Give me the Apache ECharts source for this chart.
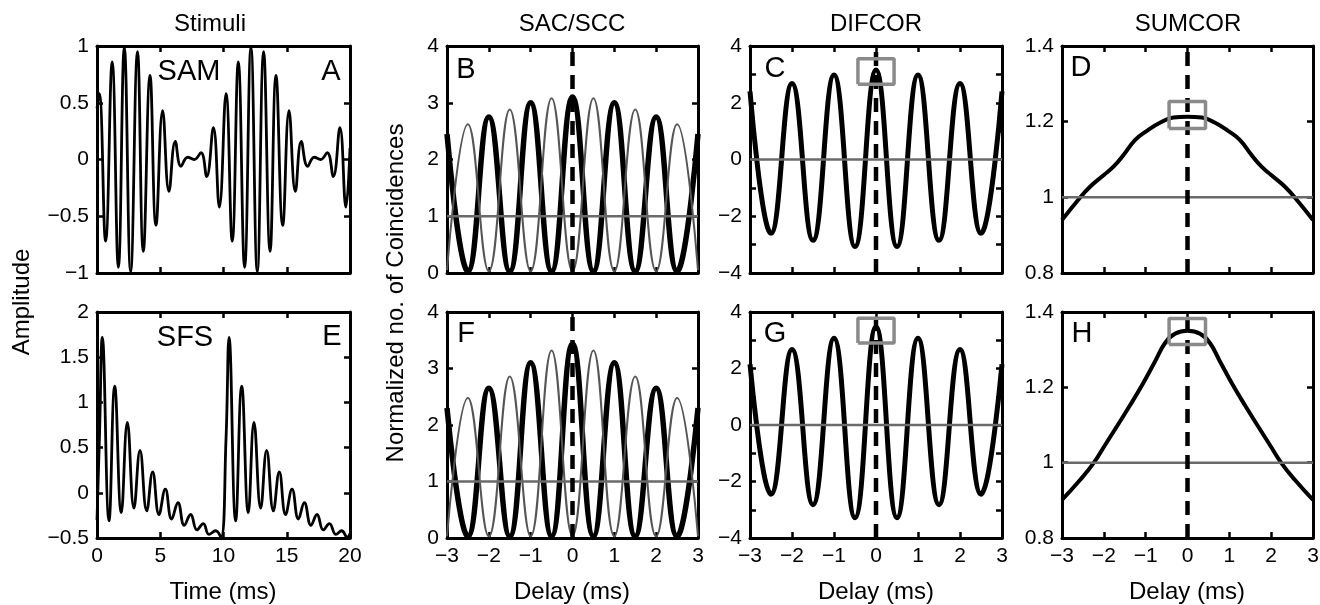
<!DOCTYPE html>
<html>
<head>
<meta charset="utf-8">
<title>Stimuli, SAC/SCC, DIFCOR, SUMCOR</title>
<script src="https://cdn.jsdelivr.net/npm/echarts@6/dist/echarts.min.js"></script>
<style>
  html, body { margin: 0; background: #fff; }
  #chart { width: 1320px; height: 605px; }
</style>
</head>
<body>
<div id="chart"></div>
<script>
// ---- data (peaks / troughs of each trace) ----
// A: SAM stimulus
const samTime = [0, 0.18, 0.68, 1.2, 1.69, 2.16, 2.66, 3.2, 3.66, 4.19, 4.66, 5.19, 5.69, 6.19, 6.64, 7.17, 7.69, 8.22, 8.67, 9.2, 9.67,
  10.2, 10.69, 11.17, 11.67, 12.17, 12.67, 13.17, 13.68, 14.15, 14.68, 15.18, 15.68, 16.15, 16.65, 17.17, 17.68, 18.2, 18.68, 19.2, 19.68, 20]
const samAmp = [0.45, 0.58, -0.72, 0.86, -0.95, 0.99, -0.99, 0.95, -0.81, 0.74, -0.58, 0.43, -0.28, 0.16, -0.06, 0.02, 0.0, 0.06, -0.15, 0.28, -0.42,
  0.58, -0.72, 0.86, -0.95, 0.99, -0.99, 0.95, -0.81, 0.74, -0.58, 0.43, -0.28, 0.16, -0.06, 0.02, 0.0, 0.06, -0.15, 0.28, -0.42, 0.1]

// E: SFS stimulus
const sfsTime = [0, 0.2, 0.42, 0.95, 1.4, 1.92, 2.4, 2.92, 3.4, 3.93, 4.4, 4.9, 5.4, 5.9, 6.4, 6.9, 7.4, 7.9, 8.4, 8.85, 9.38, 9.8,
  10.2, 10.44, 10.96, 11.44, 11.96, 12.41, 12.94, 13.41, 13.94, 14.41, 14.91, 15.42, 15.92, 16.39, 16.92, 17.39, 17.89, 18.37, 18.89, 19.34, 19.79, 20]
const sfsAmp = [-0.3, 0.65, 1.72, -0.31, 1.18, -0.22, 0.78, -0.17, 0.47, -0.2, 0.23, -0.24, 0.04, -0.29, -0.11, -0.36, -0.24, -0.41, -0.34, -0.46, -0.42, -0.49,
  0.6, 1.72, -0.31, 1.18, -0.22, 0.78, -0.17, 0.47, -0.2, 0.23, -0.24, 0.04, -0.29, -0.11, -0.36, -0.24, -0.41, -0.34, -0.46, -0.42, -0.49, -0.45]

// B, C, F, G: delays of the extrema (ms)
const delayExtrema = [-3, -2.5, -2, -1.5, -1, -0.5, 0, 0.5, 1, 1.5, 2, 2.5, 3]
const sacB = [2.45, 0.03, 2.75, 0.03, 3.0, 0.03, 3.1, 0.03, 3.0, 0.03, 2.75, 0.03, 2.45]
const sccB = [0.05, 2.62, 0.03, 2.88, 0.03, 3.08, 0.03, 3.08, 0.03, 2.88, 0.03, 2.62, 0.05]
const sacF = [2.3, 0.03, 2.65, 0.03, 3.1, 0.03, 3.44, 0.03, 3.1, 0.03, 2.65, 0.03, 2.3]
const sccF = [0.03, 2.48, 0.03, 2.86, 0.03, 3.32, 0.03, 3.32, 0.03, 2.86, 0.03, 2.48, 0.03]
const difcorC = [2.4, -2.6, 2.68, -2.85, 2.98, -3.07, 3.15, -3.07, 2.98, -2.85, 2.68, -2.6, 2.4]
const difcorG = [2.15, -2.45, 2.67, -2.82, 3.07, -3.28, 3.48, -3.28, 3.07, -2.82, 2.67, -2.45, 2.15]

// D, H: SUMCOR
const sumDelayD = [-3, -2.6, -2.33, -2.0, -1.77, -1.53, -1.25, -0.98, -0.66, -0.34, 0, 0.34, 0.66, 0.98, 1.25, 1.53, 1.77, 2.0, 2.33, 2.6, 3]
const sumcorD = [0.94, 0.995, 1.028, 1.059, 1.081, 1.112, 1.152, 1.175, 1.197, 1.211, 1.213, 1.211, 1.197, 1.175, 1.152, 1.112, 1.081, 1.059, 1.028, 0.995, 0.94]
const sumDelayH = [-3, -2.57, -2.25, -1.97, -1.69, -1.37, -1.06, -0.78, -0.54, -0.3, 0, 0.3, 0.54, 0.78, 1.06, 1.37, 1.69, 1.97, 2.25, 2.57, 3]
const sumcorH = [0.901, 0.954, 0.998, 1.047, 1.096, 1.153, 1.211, 1.268, 1.317, 1.342, 1.35, 1.342, 1.317, 1.268, 1.211, 1.153, 1.096, 1.047, 0.998, 0.954, 0.901]

// reference levels and peak boxes
const chanceSac = 1
const chanceDif = 0
const chanceSum = 1
const zeroDelay = 0
const boxC = { x: [-0.43, 0.43], y: [2.65, 3.55] }
const boxG = { x: [-0.43, 0.43], y: [2.9, 3.78] }
const boxD = { x: [-0.44, 0.43], y: [1.182, 1.253] }
const boxH = { x: [-0.44, 0.43], y: [1.314, 1.383] }

const font = 'Liberation Sans, Arial, Helvetica, sans-serif'
const fmt = v => (v < 0 ? '\u2212' : '') + Math.abs(+(+v).toFixed(2))
const fmtEven = v => (Math.round(v) % 2 === 0 ? fmt(v) : '')
const pairs = (xs, ys) => xs.map((x, i) => [x, ys[i]])

// panel layout (px)
const colX = { A: [97, 253], B: [447, 251], C: [750, 252], D: [1062, 251] }
const rowY = [[46, 227], [312, 226]]

const panels = [
  { col: 'A', row: 0, x: [0, 20, 5], y: [-1, 1, 0.5] },
  { col: 'A', row: 1, x: [0, 20, 5], y: [-0.5, 2, 0.5] },
  { col: 'B', row: 0, x: [-3, 3, 1], y: [0, 4, 1] },
  { col: 'B', row: 1, x: [-3, 3, 1], y: [0, 4, 1] },
  { col: 'C', row: 0, x: [-3, 3, 1], y: [-4, 4, 1], yFmt: fmtEven },
  { col: 'C', row: 1, x: [-3, 3, 1], y: [-4, 4, 1], yFmt: fmtEven },
  { col: 'D', row: 0, x: [-3, 3, 1], y: [0.8, 1.4, 0.2] },
  { col: 'D', row: 1, x: [-3, 3, 1], y: [0.8, 1.4, 0.2] }
]

const grid = []
const xAxis = []
const yAxis = []
const axisLine = { show: true, onZero: false, lineStyle: { color: '#000', width: 3 } }
const axisTick = { show: true, inside: true, length: 6, lineStyle: { color: '#000', width: 2.5 } }
const labelStyle = { color: '#000', fontSize: 21, fontFamily: font }

panels.forEach((p, i) => {
  const [left, width] = colX[p.col]
  const [top, height] = rowY[p.row]
  grid.push({ left, top, width, height, outerBoundsMode: 'none' })
  const common = { type: 'value', gridIndex: i, axisLine, axisTick, splitLine: { show: false } }
  xAxis.push(Object.assign({}, common, {
    position: 'bottom', min: p.x[0], max: p.x[1], interval: p.x[2],
    axisLabel: Object.assign({ show: p.row === 1, margin: 8, formatter: fmt }, labelStyle)
  }))
  xAxis.push(Object.assign({}, common, {
    position: 'top', min: p.x[0], max: p.x[1], interval: p.x[2], axisLabel: { show: false }
  }))
  yAxis.push(Object.assign({}, common, {
    position: 'left', min: p.y[0], max: p.y[1], interval: p.y[2],
    axisLabel: Object.assign({ margin: 8, formatter: p.yFmt || fmt }, labelStyle)
  }))
  yAxis.push(Object.assign({}, common, {
    position: 'right', min: p.y[0], max: p.y[1], interval: p.y[2], axisLabel: { show: false }
  }))
})

function line (idx, data, color, width, extra) {
  return Object.assign({
    type: 'line', xAxisIndex: idx * 2, yAxisIndex: idx * 2, data,
    symbol: 'none', silent: true, animation: false,
    lineStyle: { color, width }
  }, extra || {})
}
const curve = (idx, data, color, width) => line(idx, data, color, width, { smooth: 0.45 })
const hline = (idx, level) => line(idx, [[-3, level], [3, level]], '#6a6a6a', 2.5)
const dashed = (idx, lo, hi) => line(idx, [[zeroDelay, lo], [zeroDelay, hi]], '#000', 4.5, {
  lineStyle: { color: '#000', width: 4.5, type: [14, 9] }
})
const box = (idx, b) => line(idx, [[b.x[0], b.y[0]], [b.x[1], b.y[0]], [b.x[1], b.y[1]], [b.x[0], b.y[1]], [b.x[0], b.y[0]]], '#8a8a8a', 3.5)

const series = [
  curve(0, pairs(samTime, samAmp), '#000', 2.8),
  curve(1, pairs(sfsTime, sfsAmp), '#000', 2.8),

  curve(2, pairs(delayExtrema, sacB), '#000', 5.5),
  curve(2, pairs(delayExtrema, sccB), '#555', 2),
  hline(2, chanceSac), dashed(2, 0, 4),
  curve(3, pairs(delayExtrema, sacF), '#000', 5.5),
  curve(3, pairs(delayExtrema, sccF), '#555', 2),
  hline(3, chanceSac), dashed(3, 0, 4),

  curve(4, pairs(delayExtrema, difcorC), '#000', 5),
  hline(4, chanceDif), dashed(4, -4, 4), box(4, boxC),
  curve(5, pairs(delayExtrema, difcorG), '#000', 5),
  hline(5, chanceDif), dashed(5, -4, 4), box(5, boxG),

  curve(6, pairs(sumDelayD, sumcorD), '#000', 4),
  hline(6, chanceSum), dashed(6, 0.8, 1.4), box(6, boxD),
  curve(7, pairs(sumDelayH, sumcorH), '#000', 4),
  hline(7, chanceSum), dashed(7, 0.8, 1.4), box(7, boxH)
]

function text (str, x, y, size, rot) {
  return {
    type: 'text', x, y, rotation: rot || 0, silent: true,
    style: {
      text: str, font: size + 'px ' + font, fill: '#000',
      textAlign: 'center', textVerticalAlign: 'middle', align: 'center', verticalAlign: 'middle'
    }
  }
}

const graphic = [
  text('Stimuli', 210, 24, 24),
  text('SAC/SCC', 572, 24, 24),
  text('DIFCOR', 876, 24, 24),
  text('SUMCOR', 1188, 24, 24),
  text('Time (ms)', 223, 592, 24),
  text('Delay (ms)', 572, 592, 24),
  text('Delay (ms)', 876, 592, 24),
  text('Delay (ms)', 1187, 592, 24),
  text('Amplitude', 22, 302, 24, Math.PI / 2),
  text('Normalized no. of Coincidences', 396, 293, 24, Math.PI / 2),
  text('SAM', 189, 72, 29),
  text('A', 331, 72, 29),
  text('SFS', 185, 338, 29),
  text('E', 332, 337, 29),
  text('B', 466, 70, 29),
  text('F', 466, 334, 29),
  text('C', 775, 69, 29),
  text('G', 775, 334, 29),
  text('D', 1081, 68, 29),
  text('H', 1082, 334, 29)
]

const chart = echarts.init(document.getElementById('chart'), null, { renderer: 'canvas' })
chart.setOption({
  animation: false,
  backgroundColor: '#fff',
  grid,
  xAxis,
  yAxis,
  series,
  graphic
})
</script>
</body>
</html>
